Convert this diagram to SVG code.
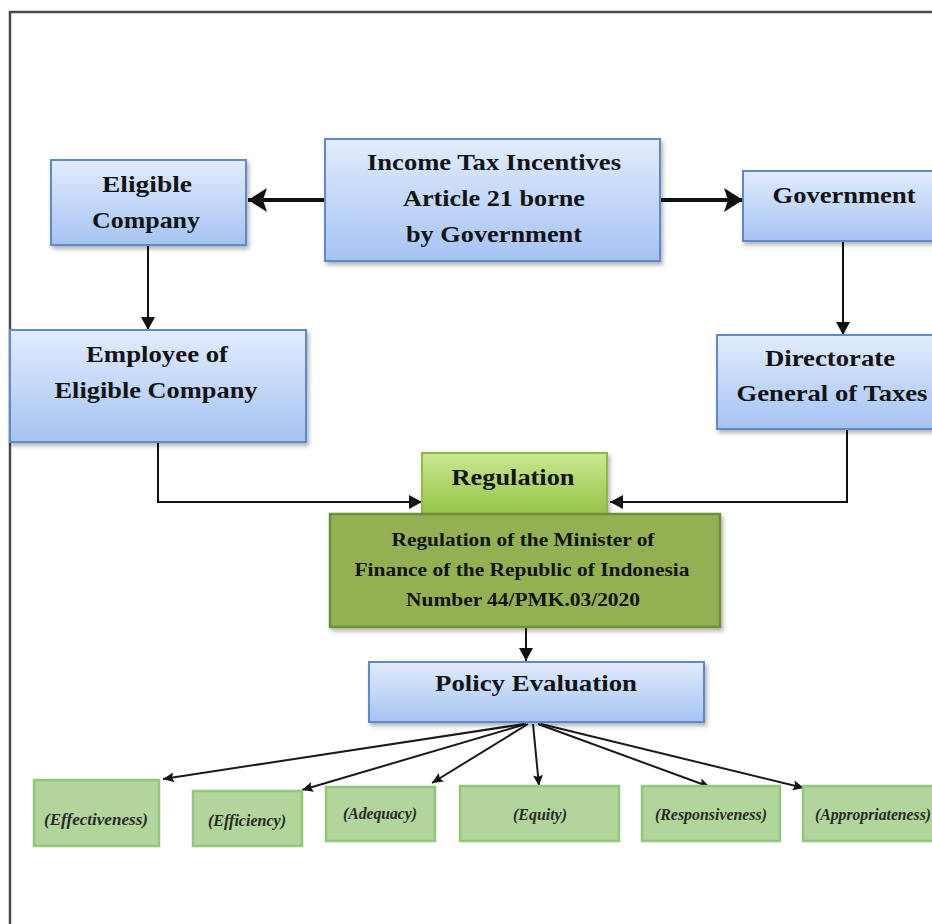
<svg xmlns="http://www.w3.org/2000/svg" width="932" height="924" viewBox="0 0 932 924">
  <style>
    .frame { fill: none; stroke: #4a4a4a; stroke-width: 2.5; }
    .blue { fill: url(#gBlue); stroke: #5b8bcc; stroke-width: 2; filter: url(#shadow); }
    .reg { fill: url(#gReg); stroke: #8fb84a; stroke-width: 2; filter: url(#shadow); }
    .pmk { fill: #93b153; stroke: #6f8e37; stroke-width: 2.5; filter: url(#shadow); }
    .crit { fill: #b1d59b; stroke: #92c77a; stroke-width: 2.5; }
    .t { font-family: "Liberation Serif", "Times New Roman", serif; font-weight: bold; fill: #141414; text-anchor: middle; }
    .big { font-size: 24px; }
    .mid { font-size: 19px; }
    .it { font-family: "Liberation Serif", "Times New Roman", serif; font-weight: bold; font-style: italic; font-size: 16px; fill: #2a2a2a; text-anchor: middle; }
    .thick { stroke: #111; stroke-width: 4; fill: none; }
    .line { stroke: #111; stroke-width: 2; fill: none; }
    .fan { stroke: #1a1a1a; stroke-width: 2; fill: none; }
  </style>
  <defs>
    <linearGradient id="gBlue" x1="0" y1="0" x2="0" y2="1">
      <stop offset="0" stop-color="#e2ecfd"/>
      <stop offset="1" stop-color="#a5c3f2"/>
    </linearGradient>
    <linearGradient id="gReg" x1="0" y1="0" x2="0" y2="1">
      <stop offset="0" stop-color="#cbe78f"/>
      <stop offset="1" stop-color="#93c447"/>
    </linearGradient>
    <filter id="shadow" x="-10%" y="-10%" width="125%" height="135%">
      <feDropShadow dx="2" dy="3" stdDeviation="2" flood-color="#000" flood-opacity="0.3"/>
    </filter>
    <marker id="headBig" markerUnits="userSpaceOnUse" markerWidth="20" markerHeight="24" refX="19" refY="12" orient="auto">
      <path d="M0,0 L19,12 L0,24 L4,12 Z" fill="#111"/>
    </marker>
    <marker id="head" markerUnits="userSpaceOnUse" markerWidth="14" markerHeight="16" refX="13" refY="8" orient="auto">
      <path d="M0,1 L13,8 L0,15 Z" fill="#111"/>
    </marker>
    <marker id="headSm" markerUnits="userSpaceOnUse" markerWidth="12" markerHeight="12" refX="11" refY="6" orient="auto">
      <path d="M0,1 L11,6 L0,11 L2,6 Z" fill="#111"/>
    </marker>
  </defs>

  <!-- outer frame, open at right and bottom -->
  <path class="frame" d="M10,924 L10,12 L932,12"/>

  <!-- connectors -->
  <g id="connectors">
    <line class="thick" x1="325" y1="200" x2="248" y2="200" marker-end="url(#headBig)"/>
    <line class="thick" x1="660" y1="200" x2="743" y2="200" marker-end="url(#headBig)"/>
    <line class="line" x1="148" y1="246" x2="148" y2="330" marker-end="url(#head)"/>
    <line class="line" x1="843" y1="242" x2="843" y2="335" marker-end="url(#head)"/>
    <polyline class="line" points="158,443 158,502 422,502" marker-end="url(#head)"/>
    <polyline class="line" points="847,430 847,502 610,502" marker-end="url(#head)"/>
    <line class="line" x1="526" y1="628" x2="526" y2="661" marker-end="url(#head)"/>
    <line class="fan" x1="524" y1="724" x2="163" y2="779" marker-end="url(#headSm)"/>
    <line class="fan" x1="526" y1="724" x2="302" y2="790" marker-end="url(#headSm)"/>
    <line class="fan" x1="528" y1="724" x2="432" y2="783" marker-end="url(#headSm)"/>
    <line class="fan" x1="533" y1="724" x2="539" y2="786" marker-end="url(#headSm)"/>
    <line class="fan" x1="538" y1="724" x2="710" y2="787" marker-end="url(#headSm)"/>
    <line class="fan" x1="541" y1="724" x2="804" y2="788" marker-end="url(#headSm)"/>
  </g>

  <g id="income-tax">
    <rect class="blue" x="325" y="139" width="335" height="122"/>
    <text class="t big" x="494" y="170" textLength="254" lengthAdjust="spacingAndGlyphs">Income Tax Incentives</text>
    <text class="t big" x="494" y="206" textLength="182" lengthAdjust="spacingAndGlyphs">Article 21 borne</text>
    <text class="t big" x="494" y="242" textLength="176" lengthAdjust="spacingAndGlyphs">by Government</text>
  </g>

  <g id="eligible-company">
    <rect class="blue" x="51" y="160" width="195" height="85"/>
    <text class="t big" x="147" y="192" textLength="90" lengthAdjust="spacingAndGlyphs">Eligible</text>
    <text class="t big" x="146" y="228" textLength="108" lengthAdjust="spacingAndGlyphs">Company</text>
  </g>

  <g id="government">
    <rect class="blue" x="743" y="171" width="200" height="70"/>
    <text class="t big" x="844" y="203" textLength="143" lengthAdjust="spacingAndGlyphs">Government</text>
  </g>

  <g id="employee">
    <rect class="blue" x="10" y="330" width="296" height="112"/>
    <text class="t big" x="157" y="362" textLength="142" lengthAdjust="spacingAndGlyphs">Employee of</text>
    <text class="t big" x="156" y="398" textLength="203" lengthAdjust="spacingAndGlyphs">Eligible Company</text>
  </g>

  <g id="directorate">
    <rect class="blue" x="717" y="335" width="226" height="94"/>
    <text class="t big" x="830" y="366" textLength="130" lengthAdjust="spacingAndGlyphs">Directorate</text>
    <text class="t big" x="832" y="401" textLength="191" lengthAdjust="spacingAndGlyphs">General of Taxes</text>
  </g>

  <g id="regulation">
    <rect class="reg" x="422" y="453" width="185" height="62"/>
    <text class="t big" x="513" y="485" textLength="123" lengthAdjust="spacingAndGlyphs">Regulation</text>
  </g>

  <g id="pmk">
    <rect class="pmk" x="330" y="514" width="390" height="113"/>
    <text class="t mid" x="523" y="546" textLength="263" lengthAdjust="spacingAndGlyphs">Regulation of the Minister of</text>
    <text class="t mid" x="522" y="576" textLength="335" lengthAdjust="spacingAndGlyphs">Finance of the Republic of Indonesia</text>
    <text class="t mid" x="523" y="606" textLength="234" lengthAdjust="spacingAndGlyphs">Number 44/PMK.03/2020</text>
  </g>

  <g id="policy-evaluation">
    <rect class="blue" x="369" y="662" width="335" height="60"/>
    <text class="t big" x="536" y="691" textLength="202" lengthAdjust="spacingAndGlyphs">Policy Evaluation</text>
  </g>

  <g id="effectiveness">
    <rect class="crit" x="34" y="780" width="125" height="66"/>
    <text class="it" x="96" y="825" textLength="104" lengthAdjust="spacingAndGlyphs">(Effectiveness)</text>
  </g>
  <g id="efficiency">
    <rect class="crit" x="193" y="791" width="109" height="55"/>
    <text class="it" x="247" y="826" textLength="78" lengthAdjust="spacingAndGlyphs">(Efficiency)</text>
  </g>
  <g id="adequacy">
    <rect class="crit" x="326" y="787" width="109" height="54"/>
    <text class="it" x="380" y="819" textLength="74" lengthAdjust="spacingAndGlyphs">(Adequacy)</text>
  </g>
  <g id="equity">
    <rect class="crit" x="460" y="786" width="159" height="55"/>
    <text class="it" x="540" y="820" textLength="54" lengthAdjust="spacingAndGlyphs">(Equity)</text>
  </g>
  <g id="responsiveness">
    <rect class="crit" x="642" y="786" width="138" height="55"/>
    <text class="it" x="711" y="820" textLength="112" lengthAdjust="spacingAndGlyphs">(Responsiveness)</text>
  </g>
  <g id="appropriateness">
    <rect class="crit" x="803" y="786" width="140" height="55"/>
    <text class="it" x="873" y="820" textLength="116" lengthAdjust="spacingAndGlyphs">(Appropriateness)</text>
  </g>
</svg>
